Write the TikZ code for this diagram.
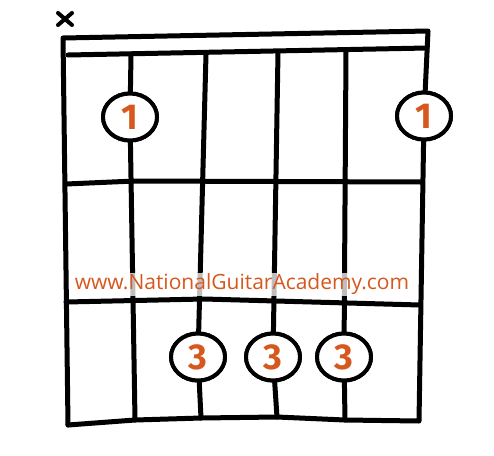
\documentclass[tikz,border=0pt]{standalone}
\usepackage{fontspec}
\setmainfont{Open Sans}
\newfontfamily\digitfont{Fira Sans}
\usetikzlibrary{shapes.geometric}
\definecolor{ngaorange}{RGB}{214,88,30}
\begin{document}
\begin{tikzpicture}[x=1pt,y=-1pt,
  grid/.style={line width=5pt, line cap=round, line join=round},
  finger/.style={draw, line width=4pt, ellipse, minimum width=54pt, minimum height=47pt, inner sep=0pt, fill=white,
    text=ngaorange, font=\digitfont\bfseries\fontsize{36}{36}\selectfont},
  urltext/.style={text=ngaorange, fill=white, fill opacity=0.75, text opacity=1, inner sep=1pt, font=\fontsize{21}{21}\selectfont}]
\useasboundingbox (0,0) rectangle (494,455);
% coordinates
\coordinate (tl) at (63,38);
\coordinate (tr) at (428,31);
\coordinate (nl) at (68,55);
\coordinate (nr) at (427,48);
\coordinate (bl) at (68,425);
\coordinate (br) at (419,421);
\coordinate (s2t) at (131,54);
\coordinate (s3t) at (206,54);
\coordinate (s4t) at (278,52);
\coordinate (s5t) at (346,51);
\coordinate (s2b) at (135,420);
\coordinate (s3b) at (201,418);
\coordinate (s4b) at (277,417);
\coordinate (s5b) at (345,420);
\coordinate (f1l) at (66,184);
\coordinate (f1m) at (135,181);
\coordinate (f1r) at (421,182);
\coordinate (f2l) at (66,302);
\coordinate (f2m) at (204,299);
\coordinate (f2r) at (420,305);
\coordinate (xc) at (65,19);
% finger nodes
\node[finger] (f1) at (130,117) {1};
\node[finger] (f2) at (424,116) {1};
\node[finger] (f3) at (198,357) {3};
\node[finger] (f4) at (273,357) {3};
\node[finger] (f5) at (344,357) {3};
% frame
\draw[grid] (bl) -- (tl) -- (tr) -- (f2);
\draw[grid] (f2) -- (br) -- (s5b) -- (s4b) -- (s3b) -- (s2b) -- (bl);
\draw[grid] (nl) -- (nr);
\draw[grid] (f1l) -- (f1m) -- (f1r);
\draw[grid] (f2l) -- (f2m) -- (f2r);
% strings
\draw[grid] (s2t) -- (f1) (f1) -- (s2b);
\draw[grid] (s3t) -- (f3) (f3) -- (s3b);
\draw[grid] (s4t) -- (f4) (f4) -- (s4b);
\draw[grid] (s5t) -- (f5) (f5) -- (s5b);
% redraw fingers on top
\node[finger] at (f1) {1};
\node[finger] at (f2) {1};
\node[finger] at (f3) {3};
\node[finger] at (f4) {3};
\node[finger] at (f5) {3};
% muted mark
\draw[line width=4pt, line cap=round] ([shift={(-7,-6)}]xc) -- ([shift={(7,6)}]xc) ([shift={(-7,6)}]xc) -- ([shift={(7,-6)}]xc);
% url
\node[urltext] (url) at (242,284) {www.NationalGuitarAcademy.com};
\end{tikzpicture}
\end{document}
